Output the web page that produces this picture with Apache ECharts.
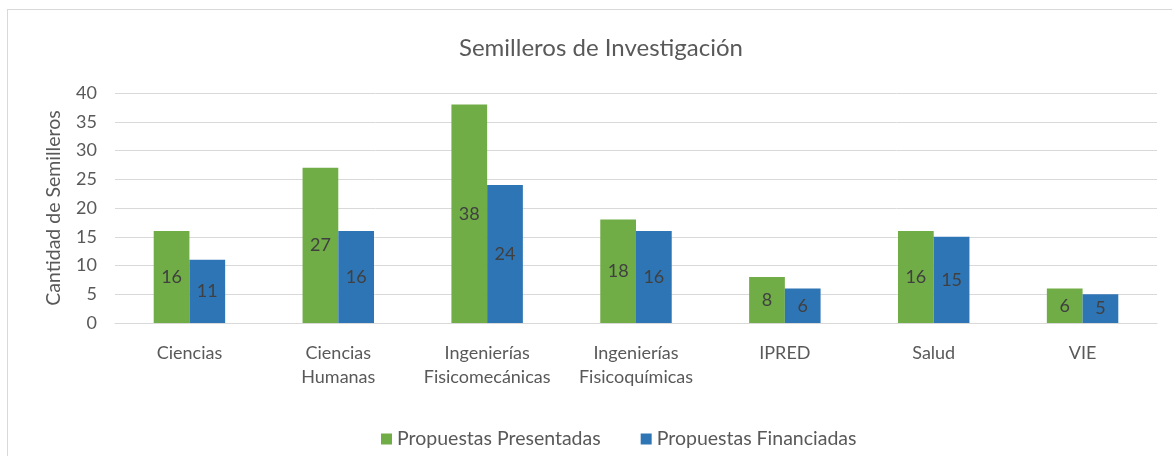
<!DOCTYPE html>
<html>
<head>
<meta charset="utf-8">
<script src="https://cdn.jsdelivr.net/npm/echarts@6/dist/echarts.min.js"></script>
<style>
  html, body { margin: 0; padding: 0; background: #fff; }
  #frame { position: absolute; left: 7px; top: 9px; width: 1180px; height: 470px; border: 1px solid #d9d9d9; box-sizing: border-box; }
  #main { position: absolute; left: 0; top: 0; width: 1172px; height: 456px; }
</style>
</head>
<body>
<div id="frame"></div>
<div id="main"></div>
<script>
  // datos del gráfico
  var categorias = ["Ciencias", "Ciencias\nHumanas", "Ingenierías\nFisicomecánicas", "Ingenierías\nFisicoquímicas", "IPRED", "Salud", "VIE"];
  var presentadas = [16, 27, 38, 18, 8, 16, 6];
  var financiadas = [11, 16, 24, 16, 6, 15, 5];
  var yTicks = [0, 5, 10, 15, 20, 25, 30, 35, 40];

  var fuente = "Lato";
  var gris = "#595959";
  var myChart = echarts.init(document.getElementById("main"));

  var option = {
    animation: false,
    textStyle: { fontFamily: fuente },
    title: {
      text: "Semilleros de Investigación",
      left: 454,
      top: 31,
      textStyle: { fontFamily: fuente, fontSize: 24, fontWeight: "normal", color: gris }
    },
    legend: {
      bottom: 2,
      left: 376,
      itemWidth: 11,
      itemHeight: 11,
      itemGap: 40,
      icon: "rect",
      textStyle: { fontFamily: fuente, fontSize: 19.5, color: gris },
      data: ["Propuestas Presentadas", "Propuestas Financiadas"]
    },
    grid: { left: 115, right: 15, top: 93, bottom: 133 },
    xAxis: {
      type: "category",
      data: categorias,
      axisLine: { lineStyle: { color: "#d9d9d9" } },
      axisTick: { show: false },
      axisLabel: { interval: 0, hideOverlap: false, fontFamily: fuente, fontSize: 18, color: gris, lineHeight: 24, margin: 18 }
    },
    yAxis: {
      type: "value",
      min: yTicks[0],
      max: yTicks[yTicks.length - 1],
      interval: 5,
      name: "Cantidad de Semilleros",
      nameLocation: "middle",
      nameGap: 51,
      nameTextStyle: { fontFamily: fuente, fontSize: 19.5, color: gris },
      axisLine: { show: false },
      axisTick: { show: false },
      splitLine: { lineStyle: { color: "#d9d9d9" } },
      axisLabel: { fontFamily: fuente, fontSize: 18, color: gris, margin: 18 }
    },
    series: [
      {
        name: "Propuestas Presentadas",
        type: "bar",
        data: presentadas,
        barGap: "0%",
        barCategoryGap: "52%",
        itemStyle: { color: "#70ad47" },
        label: { show: true, position: "inside", fontFamily: fuente, fontSize: 18, color: "#404040" }
      },
      {
        name: "Propuestas Financiadas",
        type: "bar",
        data: financiadas,
        itemStyle: { color: "#2e75b6" },
        label: { show: true, position: "inside", fontFamily: fuente, fontSize: 18, color: "#404040" }
      }
    ]
  };

  myChart.setOption(option);
</script>
</body>
</html>
